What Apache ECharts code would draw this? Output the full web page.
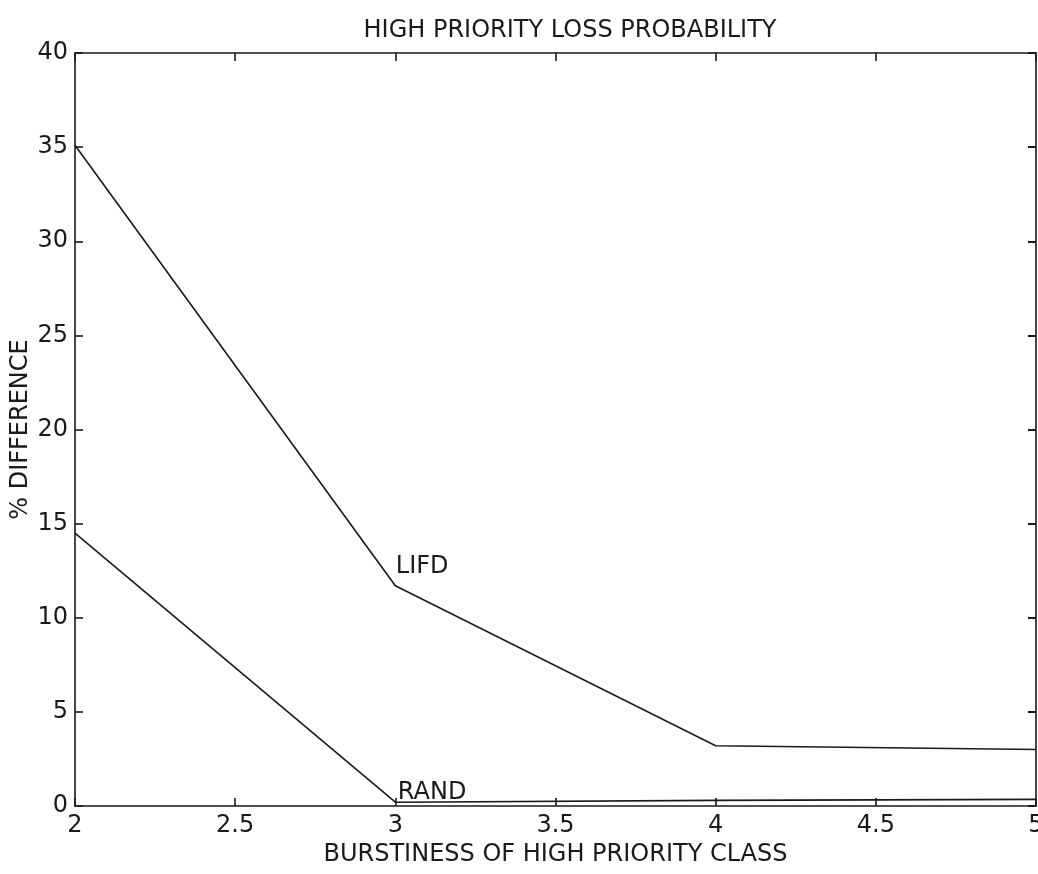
<!DOCTYPE html>
<html>
<head>
<meta charset="utf-8">
<script src="https://cdn.jsdelivr.net/npm/echarts@6/dist/echarts.min.js"></script>
<style>
html,body{margin:0;padding:0;background:#fff;}
#chart{width:1038px;height:874px;}
</style>
</head>
<body>
<div id="chart"></div>
<script>
// ---- data ----
var burstiness = [2, 3, 4, 5];
var lifdValues = [35.1, 11.7, 3.2, 3.0];
var randValues = [14.5, 0.2, 0.3, 0.35];
var xTickLabels = ['2', '2.5', '3', '3.5', '4', '4.5', '5'];
var yTickLabels = ['0', '5', '10', '15', '20', '25', '30', '35', '40'];
var titleText = 'HIGH PRIORITY LOSS PROBABILITY';
var xAxisTitle = 'BURSTINESS OF HIGH PRIORITY CLASS';
var yAxisTitle = '% DIFFERENCE';
var lifdName = 'LIFD';
var randName = 'RAND';

var ink = '#1a1a1a';
var font = '"DejaVu Sans", "Liberation Sans", Arial, sans-serif';
var fs = 24;

function pairs(xs, ys, labelIdx, labelText, offset) {
  return xs.map(function (x, i) {
    var item = { value: [x, ys[i]] };
    if (i === labelIdx) {
      item.label = {
        show: true, formatter: labelText, position: 'right', offset: offset,
        color: ink, fontFamily: font, fontSize: fs
      };
    }
    return item;
  });
}

var chart = echarts.init(document.getElementById('chart'), null, { renderer: 'canvas' });
var axisLineStyle = { color: ink, width: 1.6 };
chart.setOption({
  backgroundColor: '#ffffff',
  animation: false,
  title: {
    text: titleText, left: 565, top: 14, textAlign: 'center',
    textStyle: { color: ink, fontFamily: font, fontSize: fs, fontWeight: 'normal' }
  },
  grid: { left: 75, right: 2, top: 53, bottom: 68, containLabel: false, outerBoundsMode: 'none' },
  xAxis: [{
    type: 'value', min: 2, max: 5, interval: 0.5, position: 'bottom',
    name: xAxisTitle, nameLocation: 'middle', nameGap: 34,
    nameTextStyle: { color: ink, fontFamily: font, fontSize: fs },
    axisLine: { show: true, onZero: false, lineStyle: axisLineStyle },
    axisTick: { show: true, inside: true, length: 8, lineStyle: axisLineStyle },
    axisLabel: {
      color: ink, fontFamily: font, fontSize: fs, margin: 8,
      formatter: function (v) { var i = Math.round((v - 2) / 0.5); return xTickLabels[i] || ''; }
    },
    splitLine: { show: false }
  }, {
    type: 'value', min: 2, max: 5, interval: 0.5, position: 'top',
    axisLine: { show: true, onZero: false, lineStyle: axisLineStyle },
    axisTick: { show: true, inside: true, length: 8, lineStyle: axisLineStyle },
    axisLabel: { show: false }, splitLine: { show: false }
  }],
  yAxis: [{
    type: 'value', min: 0, max: 40, interval: 5, position: 'left',
    name: yAxisTitle, nameLocation: 'middle', nameGap: 42, nameRotate: 90, nameMoveOverlap: false,
    nameTextStyle: { color: ink, fontFamily: font, fontSize: fs },
    axisLine: { show: true, onZero: false, lineStyle: axisLineStyle },
    axisTick: { show: true, inside: true, length: 8, lineStyle: axisLineStyle },
    axisLabel: {
      color: ink, fontFamily: font, fontSize: fs, margin: 7,
      formatter: function (v) { return yTickLabels[Math.round(v / 5)] || ''; }
    },
    splitLine: { show: false }
  }, {
    type: 'value', min: 0, max: 40, interval: 5, position: 'right',
    axisLine: { show: true, onZero: false, lineStyle: axisLineStyle },
    axisTick: { show: true, inside: true, length: 8, lineStyle: { color: ink, width: 2 } },
    axisLabel: { show: false }, splitLine: { show: false }
  }],
  series: [{
    name: lifdName, type: 'line', xAxisIndex: 0, yAxisIndex: 0,
    data: pairs(burstiness, lifdValues, 1, lifdName, [-5, -19]),
    symbol: 'circle', symbolSize: 1, showSymbol: true,
    itemStyle: { color: ink }, lineStyle: { color: ink, width: 1.6 }
  }, {
    name: randName, type: 'line', xAxisIndex: 0, yAxisIndex: 0,
    data: pairs(burstiness, randValues, 1, randName, [-3, -9]),
    symbol: 'circle', symbolSize: 1, showSymbol: true,
    itemStyle: { color: ink }, lineStyle: { color: ink, width: 1.6 }
  }]
});
</script>
</body>
</html>
